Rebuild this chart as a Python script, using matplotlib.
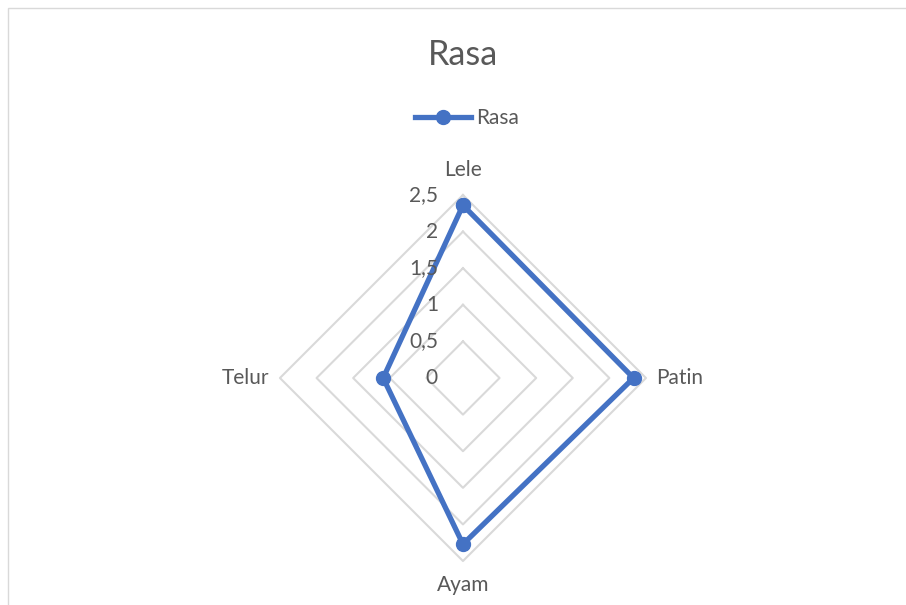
import numpy as np
import matplotlib
matplotlib.use('Agg')
import matplotlib.pyplot as plt
from matplotlib.patches import Rectangle

# データ
categories = ['Lele', 'Patin', 'Ayam', 'Telur']
rasa = [2.36, 2.33, 2.27, 1.09]
ring_values = [0.5, 1.0, 1.5, 2.0, 2.5]
tick_values = [0, 0.5, 1, 1.5, 2, 2.5]
tick_labels = ['0', '0,5', '1', '1,5', '2', '2,5']

LINE_COLOR = '#4472C4'
GRID_COLOR = '#D9D9D9'
TEXT_COLOR = '#595959'

plt.rcParams['font.family'] = ['Lato', 'DejaVu Sans']

fig = plt.figure(figsize=(9.06, 6.05), dpi=100)
fig.patches.append(Rectangle((8 / 906, -0.1), 1.2, (597 / 605) + 0.1,
                             transform=fig.transFigure, fill=False,
                             edgecolor='#D9D9D9', linewidth=1))

ax = fig.add_axes([0.309, 0.0727, 0.404, 0.605], projection='polar')
ax.set_theta_zero_location('N')
ax.set_theta_direction(-1)
ax.set_ylim(0, 2.5)
ax.axis('off')

n = len(categories)
angles = np.linspace(0, 2 * np.pi, n, endpoint=False)
closed = np.append(angles, angles[0])

# グリッド（ひし形）
for r in ring_values:
    ax.plot(closed, [r] * (n + 1), color=GRID_COLOR, lw=1.5, zorder=1,
            clip_on=False)

# データ系列
vals = rasa + rasa[:1]
ax.plot(closed, vals, color=LINE_COLOR, lw=3.8, marker='o', markersize=10,
        zorder=3, clip_on=False, label='Rasa')

# 目盛りラベル
for v, lab in zip(tick_values, tick_labels):
    ax.annotate(lab, xy=(0, v), xytext=(-25, 0), textcoords='offset pixels',
                ha='right', va='center', fontsize=15, color=TEXT_COLOR)

# カテゴリラベル
label_pos = [(2.84, 'center', 'center'), (2.64, 'left', 'center'),
             (2.83, 'center', 'center'), (2.64, 'right', 'center')]
for ang, cat, (r, ha, va) in zip(angles, categories, label_pos):
    ax.text(ang, r, cat, ha=ha, va=va, fontsize=15, color=TEXT_COLOR)

fig.text(463 / 906, 1 - 55 / 605, 'Rasa', ha='center', va='center',
         fontsize=24.5, color=TEXT_COLOR)

fig.legend(loc='center', bbox_to_anchor=(467 / 906, 1 - 118 / 605),
           frameon=False, fontsize=15, handlelength=2.7, handletextpad=0.25,
           labelcolor=TEXT_COLOR)

plt.savefig('out.png', dpi=100)
plt.close()
